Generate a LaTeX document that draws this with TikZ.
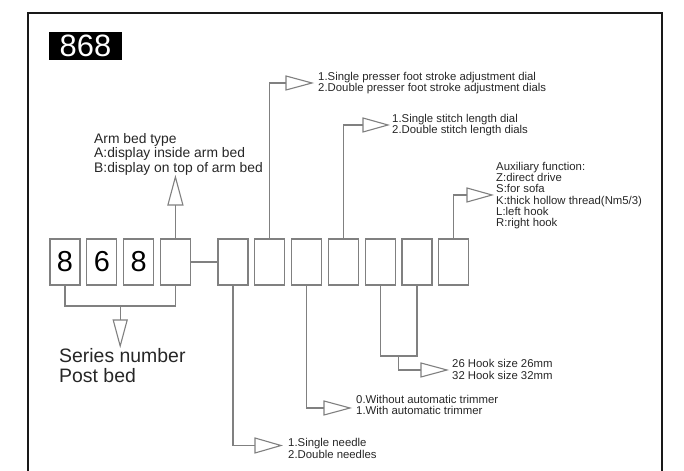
\documentclass[tikz,border=0pt]{standalone}
\usepackage{fontspec}
\setmainfont{Liberation Sans}
\usetikzlibrary{shapes.geometric}
\tikzset{
  digitbox/.style={draw=black!50,line width=1.1bp,minimum width=30bp,minimum height=46bp,inner sep=0,font=\fontsize{29}{29}\selectfont},
  link/.style={draw=black!50,line width=1.1bp},
  pointer/.style={isosceles triangle,isosceles triangle stretches,draw=black!50,line width=1.1bp,fill=white,inner sep=0,outer sep=0,minimum width=15bp,minimum height=26bp,anchor=lower side},
  note/.style={anchor=west,align=left,inner sep=0,text=black!85,font=\fontsize{11.4}{11.4}\selectfont}
}
\begin{document}
\begin{tikzpicture}[x=1bp,y=1bp]
\path[use as bounding box] (0,0) rectangle (684,471);
\draw[black!90,line width=2.6bp] (28,0)--(28,458)--(662,458)--(662,0);
\node[fill=black,text=white,minimum width=73bp,minimum height=28bp,inner sep=0,font=\fontsize{31}{31}\selectfont] (model) at (85.5,425) {868};
\node[digitbox] (d1) at (65,209) {8};
\node[digitbox] (d2) at (101.8,209) {6};
\node[digitbox] (d3) at (138.6,209) {8};
\node[digitbox] (arm) at (175.4,209) {};
\node[digitbox] (needle) at (233,209) {};
\node[digitbox] (presser) at (269.8,209) {};
\node[digitbox] (trimmer) at (306.6,209) {};
\node[digitbox] (stitch) at (343.4,209) {};
\node[digitbox] (hooka) at (380.2,209) {};
\node[digitbox] (hookb) at (417,209) {};
\node[digitbox] (aux) at (453.8,209) {};
\draw[link] (arm.east)--(needle.west);
\node[pointer,rotate=90,minimum height=28bp] (armtip) at (175.4,266) {};
\draw[link] (arm.north)--(armtip.lower side);
\node[note,font=\fontsize{13.9}{15}\selectfont] (armtext) at (94,316.6) {Arm bed type\\A:display inside arm bed\\B:display on top of arm bed};
\coordinate (seriesjoin) at (120.2,165);
\draw[link] (d1.south)|-(seriesjoin)-|(arm.south);
\node[pointer,rotate=-90,minimum width=14bp] (seriestip) at (120.2,151) {};
\draw[link] (seriesjoin)--(seriestip.lower side);
\node[note,font=\fontsize{19.5}{20}\selectfont] (seriestext) at (59,105) {Series number\\Post bed};
\node[pointer] (needletip) at (255,25.5) {};
\draw[link] (needle.south)|-(needletip.lower side);
\node[note,font=\fontsize{11.4}{12}\selectfont] (needletext) at (288,22.2) {1.Single needle\\2.Double needles};
\node[pointer,minimum width=14bp] (trimmertip) at (324,63) {};
\draw[link] (trimmer.south)|-(trimmertip.lower side);
\node[note,font=\fontsize{11.4}{11}\selectfont] (trimmertext) at (356,65.6) {0.Without automatic trimmer\\1.With automatic trimmer};
\coordinate (hookjoin) at (398.6,115);
\draw[link] (hooka.south)|-(hookjoin)-|(hookb.south);
\node[pointer,minimum width=14bp] (hooktip) at (421,101) {};
\draw[link] (hookjoin)|-(hooktip.lower side);
\node[note,font=\fontsize{11.4}{12}\selectfont] (hooktext) at (452,102) {26 Hook size 26mm\\32 Hook size 32mm};
\node[pointer,minimum width=14bp] (pressertip) at (286,388) {};
\draw[link] (presser.north)|-(pressertip.lower side);
\node[note,font=\fontsize{11.4}{11}\selectfont] (pressertext) at (318,387.5) {1.Single presser foot stroke adjustment dial\\2.Double presser foot stroke adjustment dials};
\node[pointer,minimum width=14bp,minimum height=25bp] (stitchtip) at (363,346) {};
\draw[link] (stitch.north)|-(stitchtip.lower side);
\node[note,font=\fontsize{11.4}{11}\selectfont] (stitchtext) at (392,345.5) {1.Single stitch length dial\\2.Double stitch length dials};
\node[pointer,minimum width=14bp,minimum height=25bp] (auxtip) at (467,276) {};
\draw[link] (aux.north)|-(auxtip.lower side);
\node[note] (auxtext) at (496,275.5) {Auxiliary function:\\Z:direct drive\\S:for sofa\\K:thick hollow thread(Nm5/3)\\L:left hook\\R:right hook};
\end{tikzpicture}
\end{document}
